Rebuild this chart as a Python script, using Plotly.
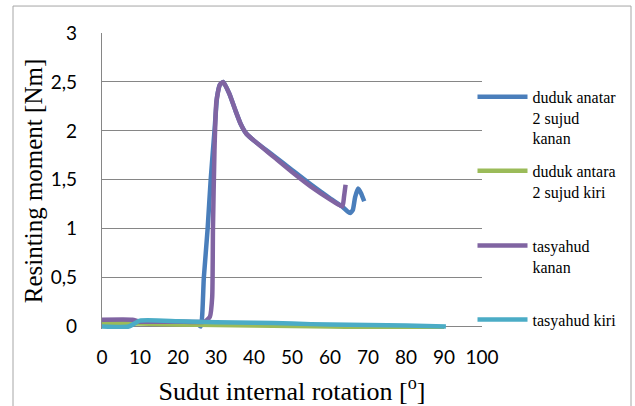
import plotly.graph_objects as go

# ---- data ----
series_names = ["duduk anatar<br>2 sujud<br>kanan", "duduk antara<br>2 sujud kiri",
                "tasyahud<br>kanan", "tasyahud kiri"]
series_colors = ["#4A7EBB", "#9BBB59", "#8064A2", "#4BACC6"]

x_blue = [0, 10, 20, 25, 26, 26.8, 27.8, 28.6, 29.6, 30.3, 31.0, 31.9, 33.5, 35.0, 36.5, 38.0, 40.0,
          45, 50, 55, 60, 63.4, 64.5, 65.3, 66.0, 66.6, 67.4, 68.2, 69.0]
y_blue = [0.04, 0.04, 0.04, 0.03, 0.0, 0.5, 1.0, 1.5, 2.0, 2.35, 2.47, 2.5, 2.38, 2.22, 2.07, 1.97, 1.90,
          1.75, 1.60, 1.45, 1.31, 1.22, 1.18, 1.16, 1.19, 1.32, 1.41, 1.36, 1.28]

x_green = [0, 10, 20, 30, 40, 50, 60, 70, 80, 90]
y_green = [0.03, 0.03, 0.02, 0.015, 0.01, 0.005, 0.0, -0.005, -0.008, -0.01]

x_purple = [0, 8, 10, 20, 27, 28.4, 29.0, 29.2, 29.6, 30.1, 31.0, 31.9, 33.5, 35.0, 36.5, 38.0, 40.0,
            45, 50, 55, 60, 62.6, 63.3, 63.7, 64.1]
y_purple = [0.07, 0.07, 0.05, 0.05, 0.05, 0.1, 0.3, 1.0, 1.8, 2.3, 2.47, 2.5, 2.38, 2.22, 2.07, 1.97, 1.90,
            1.74, 1.58, 1.43, 1.30, 1.24, 1.23, 1.33, 1.45]

x_cyan = [0, 7, 10, 20, 30, 40, 50, 60, 70, 80, 90.5]
y_cyan = [0.0, 0.0, 0.06, 0.055, 0.045, 0.04, 0.03, 0.02, 0.015, 0.01, 0.0]

x_tickvals = [0, 10, 20, 30, 40, 50, 60, 70, 80, 90, 100]
x_ticktext = ["0", "10", "20", "30", "40", "50", "60", "70", "80", "90", "100"]
y_tickvals = [0, 0.5, 1, 1.5, 2, 2.5, 3]
y_ticktext = ["0", "0,5", "1", "1,5", "2", "2,5", "3"]

x_title = "Sudut internal rotation [<sup>o</sup>]"
y_title = "Resinting moment [Nm]"

xs = [x_blue, x_green, x_purple, x_cyan]
ys = [y_blue, y_green, y_purple, y_cyan]
legend_ids = ["legend", "legend2", "legend3", "legend4"]
legend_y = [0.842, 0.592, 0.339, 0.089]

fig = go.Figure()
for i in range(4):
    fig.add_trace(go.Scatter(
        x=xs[i], y=ys[i], mode="lines", name=series_names[i],
        line=dict(color=series_colors[i], width=4.5, shape="spline", smoothing=0.5),
        legend=legend_ids[i],
    ))

serif = "Liberation Serif"
sans = "Lato"

layout_legs = {}
for i, lid in enumerate(legend_ids):
    layout_legs[lid] = dict(x=0.975, xanchor="left", yanchor="top", valign="top",
                            y=legend_y[i], itemwidth=50,
                            bgcolor="rgba(0,0,0,0)", borderwidth=0,
                            font=dict(family=serif, size=16, color="#000000"))

fig.update_layout(
    width=635, height=406,
    margin=dict(l=102, r=153, t=33, b=76.5, autoexpand=False),
    paper_bgcolor="#ffffff", plot_bgcolor="#ffffff",
    font=dict(family=serif, color="#000000"),
    separators=",.",
    showlegend=True,
    **layout_legs,
    xaxis=dict(range=[0, 100], tickvals=x_tickvals, ticktext=x_ticktext,
               showgrid=False, zeroline=False, showline=False, ticks="",
               automargin=False, ticklabelstandoff=15,
               tickfont=dict(family=sans, size=19, color="#000000"),
               title=dict(text=x_title, font=dict(family=serif, size=26, color="#000000"), standoff=14)),
    yaxis=dict(range=[-0.025, 3], tickvals=y_tickvals, ticktext=y_ticktext,
               showgrid=True, gridcolor="#868686", gridwidth=1.3,
               zeroline=True, zerolinecolor="#868686", zerolinewidth=1.3,
               showline=True, linecolor="#868686", linewidth=1.3, ticks="",
               automargin=False, ticklabelstandoff=20,
               tickfont=dict(family=sans, size=19, color="#000000"),
               title=dict(text=y_title, font=dict(family=serif, size=25, color="#000000"), standoff=0)),
    shapes=[dict(type="rect", xref="paper", yref="paper",
                 x0=(13 - 102) / 380, x1=(631 - 102) / 380,
                 y0=(329.5 - 410) / 296.5, y1=(329.5 - 6) / 296.5,
                 line=dict(color="#A6A6A6", width=1), fillcolor="rgba(0,0,0,0)", layer="below")],
)

fig.write_html("out.html", config={"displayModeBar": False},
               post_script="document.body.style.margin='0px';document.body.style.overflow='hidden';")
